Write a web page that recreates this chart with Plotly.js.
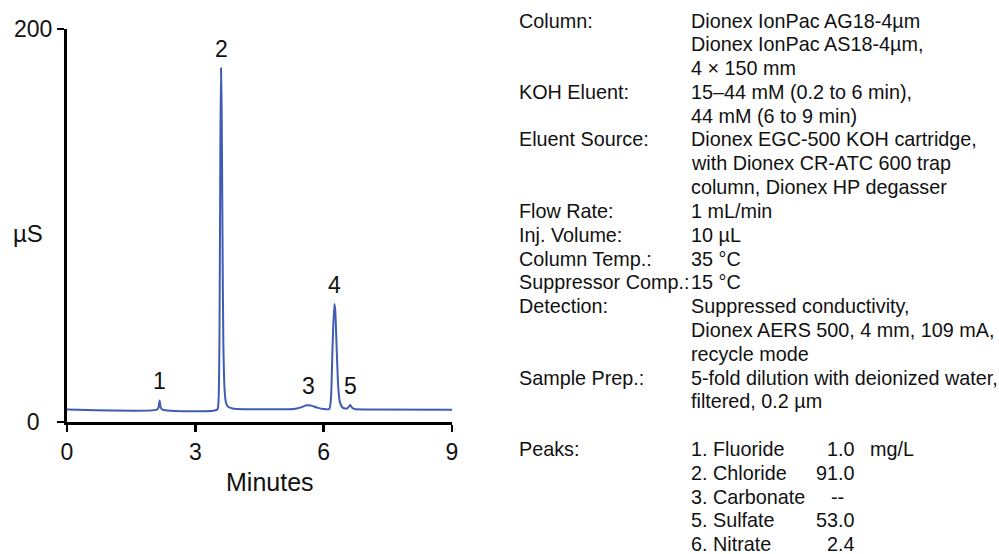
<!DOCTYPE html>
<html>
<head>
<meta charset="utf-8">
<script src="https://cdn.plot.ly/plotly-3.0.1.min.js"></script>
<style>html,body{margin:0;padding:0;background:#fff;}#chart{width:999px;height:554px;}</style>
</head>
<body>
<div id="chart"></div>
<script>
// Chromatogram trace (minutes, µS)
const timeMin = [0, 2.10, 2.14, 2.165, 2.19, 2.23, 3.51, 3.54, 3.565, 3.585, 3.60, 3.615, 3.635, 3.655, 3.685, 3.72, 3.78, 3.9, 4.5, 5.3, 5.45, 5.6, 5.7, 5.85, 6.0, 6.13, 6.17, 6.21, 6.25, 6.27, 6.30, 6.34, 6.38, 6.45, 6.55, 6.6, 6.62, 6.66, 6.72, 7.0, 9.0];
const signalUS = [6.3, 6.3, 7.5, 11, 7.5, 6.3, 6.3, 10, 45, 140, 180, 160, 95, 40, 16, 9.5, 7.5, 6.8, 6.5, 6.6, 7.3, 8.5, 8.4, 7.3, 6.6, 6.6, 12, 40, 60, 57, 40, 18, 10, 7.2, 6.9, 8.0, 8.6, 7.4, 6.6, 6.4, 6.2];

// Peak labels
const peakLabels = ['1', '2', '3', '4', '5'];
const peakTimes = [2.165, 3.60, 5.65, 6.26, 6.62];
const peakHeights = [11, 180, 8.5, 60, 8.6];

// Axis ticks and titles
const xTickVals = [0, 3, 6, 9];
const yTickVals = [0, 200];
const yTickText = ['0\u00a0\u00a0', '200'];
const xTitle = 'Minutes';
const yTitle = 'µS';

// Conditions text
const condLabels = ['Column:', '', '', 'KOH Eluent:', '', 'Eluent Source:', '', '', 'Flow Rate:', 'Inj. Volume:', 'Column Temp.:', 'Suppressor Comp.:', 'Detection:', '', '', 'Sample Prep.:', ''];
const condValues = ['Dionex IonPac AG18-4µm', 'Dionex IonPac AS18-4µm,', '4 × 150 mm', '15–44 mM (0.2 to 6 min),', '44 mM (6 to 9 min)', 'Dionex EGC-500 KOH cartridge,', 'with Dionex CR-ATC 600 trap', 'column, Dionex HP degasser', '1 mL/min', '10 µL', '35 °C', '15 °C', 'Suppressed conductivity,', 'Dionex AERS 500, 4 mm, 109 mA,', 'recycle mode', '5-fold dilution with deionized water,', 'filtered, 0.2 µm'];
const peakNames = ['1. Fluoride', '2. Chloride', '3. Carbonate', '5. Sulfate', '6. Nitrate'];
const peakAmounts = ['1.0', '91.0', '--\u00a0\u00a0', '53.0', '2.4'];
const amountUnit = 'mg/L';

const FONT = 'Liberation Sans, Arial, sans-serif';
const INK = '#111';
const W = 999, H = 554;
const M = {l: 67, r: 547, t: 29, b: 132};
const pw = W - M.l - M.r, ph = H - M.t - M.b;
const px2x = p => (p - M.l) / pw;
const px2y = p => 1 - (p - M.t) / ph;

const annotations = [];
// peak number labels
peakLabels.forEach((t, i) => {
  annotations.push({x: peakTimes[i], y: peakHeights[i], xref: 'x', yref: 'y', text: t, showarrow: false,
    yanchor: 'middle', yshift: 19, font: {family: FONT, size: 23, color: INK}});
});
// axis titles
annotations.push({x: px2x(28), y: px2y(233), xref: 'paper', yref: 'paper', text: yTitle, showarrow: false,
  xanchor: 'center', yanchor: 'middle', font: {family: FONT, size: 24, color: INK}});
annotations.push({x: px2x(270), y: px2y(482), xref: 'paper', yref: 'paper', text: xTitle, showarrow: false,
  xanchor: 'center', yanchor: 'middle', font: {family: FONT, size: 25, color: INK}});

const lineY = i => 20.5 + 23.8 * i;
const tf = {family: FONT, size: 19.8, color: INK};
condLabels.forEach((t, i) => {
  if (t) annotations.push({x: px2x(517), y: px2y(lineY(i)), xref: 'paper', yref: 'paper', text: t, showarrow: false,
    xanchor: 'left', yanchor: 'middle', font: tf});
  annotations.push({x: px2x(689), y: px2y(lineY(i)), xref: 'paper', yref: 'paper', text: condValues[i], showarrow: false,
    xanchor: 'left', yanchor: 'middle', font: tf});
});
annotations.push({x: px2x(517), y: px2y(lineY(18)), xref: 'paper', yref: 'paper', text: 'Peaks:', showarrow: false,
  xanchor: 'left', yanchor: 'middle', font: tf});
peakNames.forEach((t, i) => {
  const yy = px2y(lineY(18 + i));
  annotations.push({x: px2x(689), y: yy, xref: 'paper', yref: 'paper', text: t, showarrow: false,
    xanchor: 'left', yanchor: 'middle', font: tf});
  annotations.push({x: px2x(857), y: yy, xref: 'paper', yref: 'paper', text: peakAmounts[i], showarrow: false,
    xanchor: 'right', yanchor: 'middle', font: tf});
});
annotations.push({x: px2x(868), y: px2y(lineY(18)), xref: 'paper', yref: 'paper', text: amountUnit, showarrow: false,
  xanchor: 'left', yanchor: 'middle', font: tf});

const data = [{
  x: timeMin, y: signalUS, type: 'scatter', mode: 'lines',
  line: {color: '#3f5cb5', width: 2, shape: 'spline', smoothing: 0.6},
  hoverinfo: 'x+y'
}];

const layout = {
  width: W, height: H,
  margin: M,
  paper_bgcolor: '#fff', plot_bgcolor: '#fff',
  showlegend: false,
  font: {family: FONT, color: INK},
  xaxis: {
    range: [0, 9], tickvals: xTickVals, ticks: 'outside', ticklen: 7, tickwidth: 2.5, tickcolor: '#000',
    showline: true, linecolor: '#000', linewidth: 3, showgrid: false, zeroline: false,
    tickfont: {family: FONT, size: 23, color: INK}
  },
  yaxis: {
    range: [0, 200], tickvals: yTickVals, ticktext: yTickText, ticks: 'outside', ticklen: 7, tickwidth: 2.5, tickcolor: '#000',
    showline: true, linecolor: '#000', linewidth: 3, showgrid: false, zeroline: false,
    tickfont: {family: FONT, size: 23, color: INK}
  },
  annotations: annotations
};

Plotly.newPlot('chart', data, layout, {displayModeBar: false, staticPlot: true});
</script>
</body>
</html>
